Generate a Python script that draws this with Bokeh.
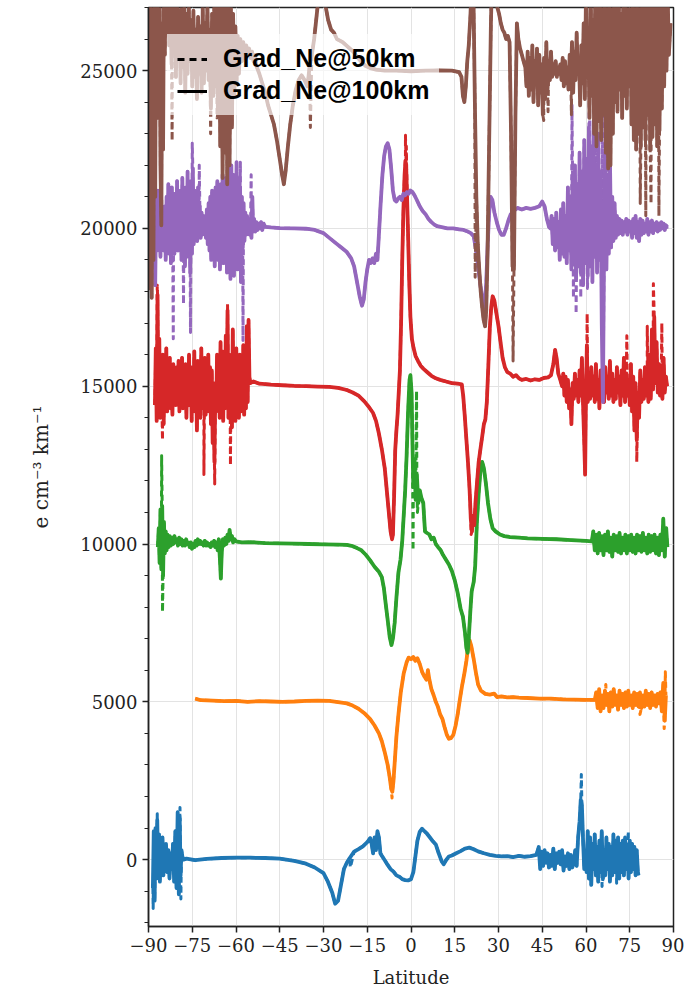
import numpy as np
from bokeh.plotting import figure
from bokeh.models import Range1d, FixedTicker, Legend, LegendItem
from bokeh.embed import file_html
from bokeh.resources import INLINE

# ---------------- data (latitude, value) ----------------
X_TICKS = [-90, -75, -60, -45, -30, -15, 0, 15, 30, 45, 60, 75, 90]
X_TICK_LABELS = ["\u221290", "\u221275", "\u221260", "\u221245", "\u221230", "\u221215",
                 "0", "15", "30", "45", "60", "75", "90"]
Y_TICKS = [0, 5000, 10000, 15000, 20000, 25000]
Y_MINOR = [-2000, -1000, 1000, 2000, 3000, 4000, 6000, 7000, 8000, 9000, 11000, 12000,
           13000, 14000, 16000, 17000, 18000, 19000, 21000, 22000, 23000, 24000, 26000, 27000]

LEGEND_LABELS = ["Grad_Ne@50km", "Grad_Ne@100km"]
COLORS = ["#1f77b4", "#ff7f0e", "#2ca02c", "#d62728", "#9467bd", "#8c564b"]

BLUE_100 = [
    (-88.5, -900), (-88.2, 900), (-87.9, -1300), (-87.6, 1000), (-87.3, -600), (-87.0, 1250),
    (-86.7, -400), (-86.4, 800), (-86.1, -700), (-85.8, 600), (-85.5, -300), (-85.2, 700),
    (-84.9, -500), (-84.6, 400), (-84.3, -200), (-84.0, 500), (-83.6, -400), (-83.2, 300),
    (-82.8, -600), (-82.4, 200), (-82.0, -300), (-81.6, 500), (-81.2, -700), (-80.8, 900),
    (-80.4, -900), (-80.0, 1500), (-79.6, -1100), (-79.3, 1300), (-79.0, -500), (-78.7, 300),
    (-78.4, 100), (-78.0, 0),
    (-77, 30), (-74, -20), (-70, 20), (-65, 50), (-60, 60), (-55, 60), (-50, 50), (-45, 30),
    (-40, -40), (-36, -130), (-33, -250), (-30, -430), (-28.5, -700), (-27, -1050), (-26, -1400),
    (-25, -1300), (-24, -800), (-23, -300), (-22, -100), (-21, 50), (-19.5, 250), (-18, 330),
    (-16.5, 420), (-15, 550), (-14, 680), (-13.5, 500), (-13, 200), (-12.5, 700), (-12, 300),
    (-11.5, 900), (-11, 700), (-10.5, 200), (-10, 120), (-9, -20), (-8, -170), (-7, -300),
    (-6, -380), (-5, -500), (-4, -540), (-3, -620), (-2, -650), (-1, -660), (0, -620),
    (0.8, -400), (1.5, 100), (2.2, 600), (3, 880), (3.8, 980), (4.6, 900), (5.5, 820),
    (6.5, 700), (7.5, 580), (8.5, 480), (9.5, 200), (10.5, -50), (11.2, -150), (12, -20),
    (13, 100), (14, 130), (15.5, 200), (17, 270), (18.5, 350), (20, 380), (21.5, 330),
    (23, 260), (25, 200), (27, 150), (29, 120), (31, 100), (33, 110), (35, 80), (37, 120),
    (39, 90), (41, 110), (43, 150),
    (43.8, 400), (44.3, -300), (44.8, 250), (45.3, -200), (45.8, 300), (46.3, -100),
    (46.8, 200), (47.3, -250), (47.8, 150), (48.3, -200), (48.8, 350), (49.3, -300),
    (49.8, 200), (50.3, -100), (50.8, 250), (51.3, -150), (51.8, 300), (52.3, -350),
    (52.8, 100), (53.3, -200), (53.8, 200), (54.3, -300), (54.8, 150), (55.3, -250),
    (55.8, -100), (56.3, 300), (56.8, -200), (57.3, 700), (57.8, 1200), (58.2, 1900),
    (58.6, 1700), (59.0, 600), (59.4, -300), (59.8, 200), (60.2, -400),
    (60.6, 900), (61.0, -600), (61.4, 700), (61.8, -800), (62.2, 500), (62.6, -300),
    (63.0, 800), (63.4, -500), (63.8, 400), (64.2, -700), (64.6, 600), (65.0, -400),
    (65.4, 900), (65.8, -600), (66.2, 300), (66.6, -500), (67.0, 700), (67.4, -300),
    (67.8, 500), (68.2, -700), (68.6, 400), (69.0, -500), (69.4, 800), (69.8, -400),
    (70.2, 600), (70.6, -300), (71.0, 700), (71.4, -600), (71.8, 500), (72.2, -400),
    (72.6, 600), (73.0, -500), (73.4, 700), (73.8, -300), (74.2, 400), (74.6, -600),
    (75.0, 600), (75.4, -400), (75.8, 500), (76.2, -300), (76.6, 400), (77.0, -500),
    (77.4, 300), (77.8, -400), (78.0, -500),
]
BLUE_50_SPIKES = [(-88.4, -1550), (-87.0, 1450), (-79.2, 1650), (-78.9, -1250), (-20.8, -250),
                  (58.4, 2700), (65.5, -850), (70.5, -750), (74.5, 900)]

ORANGE_100 = [
    (-74.0, 5100), (-72, 5050), (-68, 5040), (-64, 5020), (-60, 5030), (-56, 5000), (-52, 5020),
    (-48, 5010), (-44, 5000), (-40, 5010), (-36, 5030), (-32, 5040), (-28, 5030), (-25, 4990),
    (-22, 4950), (-20, 4880), (-18, 4780), (-16, 4640), (-14, 4450), (-12.5, 4250), (-11, 4000),
    (-10, 3750), (-9, 3400), (-8, 3000), (-7.3, 2600), (-6.8, 2250), (-6.4, 2150), (-6.0, 2500),
    (-5.5, 3200), (-5, 3900), (-4.3, 4600), (-3.5, 5300), (-2.5, 5900), (-1.5, 6250),
    (-0.8, 6400), (0, 6350), (0.8, 6420), (1.5, 6300), (2.2, 6380), (3, 6200), (3.8, 5950),
    (4.6, 5800), (5.3, 5700), (5.8, 6000), (6.3, 5700), (7, 5400), (7.8, 5200), (8.5, 5000),
    (9.2, 4850), (10, 4600), (10.8, 4450), (11.5, 4200), (12.3, 3950), (13, 3830), (13.7, 3850),
    (14.5, 3950), (15.3, 4250), (16, 4600), (16.8, 5100), (17.5, 5500), (18.3, 5900),
    (19, 6300), (19.6, 6750), (20.1, 6950), (20.7, 6750), (21.5, 6350), (22.3, 5900),
    (23, 5550), (24, 5350), (25.5, 5250), (27, 5230), (28.5, 5260), (29.5, 5150), (31, 5170),
    (33, 5140), (35, 5150), (37, 5130), (40, 5120), (44, 5100), (48, 5100), (52, 5080),
    (56, 5070), (60, 5060), (63, 5060),
    (63.5, 5300), (64.0, 4800), (64.5, 5400), (65.0, 4700), (65.5, 5200), (66.0, 4800),
    (66.5, 5350), (67.0, 4900), (67.5, 5250), (68.0, 4700), (68.5, 5300), (69.0, 4850),
    (69.5, 5400), (70.0, 4900), (70.5, 5200), (71.0, 4750), (71.5, 5350), (72.0, 4900),
    (72.5, 5250), (73.0, 4800), (73.5, 5300), (74.0, 4850), (74.5, 5350), (75.0, 4900),
    (75.5, 5200), (76.0, 4800), (76.5, 5300), (77.0, 4900), (77.5, 5250), (78.0, 4850),
    (78.5, 5300), (79.0, 4800), (79.5, 5200), (80.0, 4850), (80.5, 5350), (81.0, 4900),
    (81.5, 5250), (82.0, 4800), (82.5, 5300), (83.0, 4900), (83.5, 5200), (84.0, 4850),
    (84.5, 5250), (85.0, 4950), (85.5, 5300), (86.0, 4700), (86.5, 5600), (87.0, 4400),
    (87.4, 5200),
]
ORANGE_50_SPIKES = [(-6.5, 1950), (66.8, 5550), (78.5, 4600), (86.8, 4150), (87.2, 5950)]

GREEN_100 = [
    (-86.8, 9900), (-86.5, 10500), (-86.2, 9400), (-85.9, 11100), (-85.6, 9200), (-85.3, 11200),
    (-85.0, 9000), (-84.7, 10700), (-84.4, 9700), (-84.1, 10400), (-83.8, 9800), (-83.5, 10300),
    (-83.1, 9900), (-82.7, 10250), (-82.3, 9950), (-81.9, 10200), (-81.5, 10000), (-81.1, 10250),
    (-80.7, 10050), (-80.3, 10150), (-79.9, 9950), (-79.5, 10200), (-79.1, 10000), (-78.7, 10150),
    (-78.3, 9950), (-77.9, 10100), (-77.5, 9950), (-77.1, 10150), (-76.7, 10000), (-76.3, 10050),
    (-75.9, 9900), (-75.5, 10050), (-75.1, 9850), (-74.7, 10000), (-74.3, 9900), (-73.9, 10100),
    (-73.5, 9950), (-73.1, 10150), (-72.7, 10000), (-72.3, 10100), (-71.9, 10000), (-71.5, 10050),
    (-71.1, 9950), (-70.7, 10100), (-70.3, 9950), (-69.9, 10050), (-69.5, 9950), (-69.1, 10000),
    (-68.7, 9900), (-68.3, 10050), (-67.9, 9950), (-67.5, 10100), (-67.1, 9900), (-66.7, 10050),
    (-66.3, 9800), (-65.9, 10150), (-65.5, 9500), (-65.2, 8900), (-64.9, 9700), (-64.5, 10150),
    (-64.1, 9950), (-63.7, 10200), (-63.3, 10000), (-62.9, 10300), (-62.5, 10100), (-62.2, 10450),
    (-61.8, 10150), (-61.4, 10250), (-61.0, 10050), (-60.5, 10150), (-60, 10080),
    (-58, 10050), (-55, 10060), (-50, 10030), (-45, 10020), (-40, 10010), (-35, 10000),
    (-30, 9990), (-25, 9980), (-22, 9970), (-20, 9930), (-18.5, 9870), (-17, 9800),
    (-15.5, 9660), (-14, 9480), (-12.5, 9280), (-11, 9120), (-10, 8950), (-9.3, 8600),
    (-8.6, 8050), (-8, 7600), (-7.3, 7050), (-6.7, 6800), (-6.2, 7000), (-5.6, 7500),
    (-5.0, 8300), (-4.3, 9100), (-3.6, 9500), (-3.0, 10100), (-2.5, 10900), (-2.0, 11700),
    (-1.5, 12800), (-1.0, 14200), (-0.5, 15200), (-0.2, 15350), (0.2, 14800), (0.5, 13200),
    (0.8, 11800), (1.2, 12700), (1.6, 11400), (2.0, 12200), (2.5, 11300), (3.0, 11700),
    (3.6, 11450), (4.2, 11300), (4.8, 10400), (5.5, 10350), (6.3, 10300), (7.0, 10150),
    (7.8, 10200), (8.5, 10000), (9.3, 9900), (10.2, 9800), (11.0, 9650), (12.0, 9500),
    (13.0, 9350), (14.0, 9150), (15.0, 8850), (16.0, 8450), (17.0, 7950), (17.8, 7700),
    (18.5, 7200), (19.0, 6700), (19.4, 6550), (19.8, 7000), (20.3, 7800), (20.8, 8500),
    (21.5, 8800), (22.0, 9300), (22.6, 10700), (23.2, 11600), (23.8, 12300), (24.4, 12600),
    (25.0, 12400), (25.7, 11900), (26.4, 11300), (27.2, 10800), (28.0, 10500), (29.0, 10400),
    (30.5, 10300), (32, 10250), (34, 10220), (37, 10200), (40, 10180), (45, 10160),
    (50, 10150), (55, 10120), (60, 10100), (62, 10080),
    (62.5, 10400), (63.0, 9800), (63.5, 10300), (64.0, 9700), (64.5, 10350), (65.0, 9800),
    (65.5, 10250), (66.0, 9650), (66.5, 10300), (67.0, 9800), (67.5, 10400), (68.0, 9750),
    (68.5, 10200), (69.0, 9600), (69.5, 10300), (70.0, 9800), (70.5, 10250), (71.0, 9750),
    (71.5, 10350), (72.0, 9700), (72.5, 10200), (73.0, 9800), (73.5, 10300), (74.0, 9700),
    (74.5, 10250), (75.0, 9800), (75.5, 10300), (76.0, 9750), (76.5, 10200), (77.0, 9700),
    (77.5, 10300), (78.0, 9800), (78.5, 10250), (79.0, 9750), (79.5, 10350), (80.0, 9800),
    (80.5, 10200), (81.0, 9700), (81.5, 10300), (82.0, 9750), (82.5, 10250), (83.0, 9800),
    (83.5, 10300), (84.0, 9700), (84.5, 10200), (85.0, 9650), (85.5, 10300), (86.0, 9800),
    (86.5, 10800), (87.0, 9600), (87.5, 10500), (87.9, 9900),
]
GREEN_50_SPIKES = [(-85.5, 12800), (-85.2, 7850), (0.7, 9800), (1.9, 14850), (2.2, 11000)]

RED_100 = [
    (-87.8, 14400), (-87.5, 16200), (-87.2, 13900), (-86.9, 17900), (-86.6, 14200), (-86.3, 16500),
    (-86.0, 14000), (-85.7, 15800), (-85.4, 14300), (-85.1, 16000), (-84.8, 13800), (-84.5, 15700),
    (-84.2, 14500), (-83.9, 16200), (-83.6, 14200), (-83.3, 15600), (-83.0, 14600), (-82.7, 15900),
    (-82.4, 14300), (-82.1, 15500), (-81.8, 14100), (-81.5, 15700), (-81.2, 14600), (-80.9, 15400),
    (-80.6, 14400), (-80.3, 15600), (-80.0, 14700), (-79.7, 15800), (-79.4, 14200), (-79.1, 15300),
    (-78.8, 14500), (-78.5, 15900), (-78.2, 14300), (-77.9, 15500), (-77.6, 14600), (-77.3, 15700),
    (-77.0, 14000), (-76.7, 15400), (-76.4, 14400), (-76.1, 16000), (-75.8, 14500), (-75.5, 15600),
    (-75.2, 13900), (-74.9, 15500), (-74.6, 14700), (-74.3, 16100), (-74.0, 14200), (-73.7, 15400),
    (-73.4, 13600), (-73.1, 15800), (-72.8, 14500), (-72.5, 15300), (-72.2, 14000), (-71.9, 16200),
    (-71.6, 14300), (-71.3, 15500), (-71.0, 14600), (-70.7, 15900), (-70.4, 14100), (-70.1, 15400),
    (-69.8, 14500), (-69.5, 16000), (-69.2, 14200), (-68.9, 15600), (-68.6, 13800), (-68.3, 15500),
    (-68.0, 13200), (-67.7, 15100), (-67.4, 12600), (-67.1, 14800), (-66.8, 14200), (-66.5, 16000),
    (-66.2, 14300), (-65.9, 15800), (-65.6, 14000), (-65.3, 16400), (-65.0, 14400), (-64.7, 16100),
    (-64.4, 13900), (-64.1, 15600), (-63.8, 14300), (-63.5, 16600), (-63.2, 14800), (-62.9, 17400),
    (-62.6, 14000), (-62.3, 16000), (-62.0, 14300), (-61.7, 15700), (-61.4, 13700), (-61.1, 16800),
    (-60.8, 14100), (-60.5, 15500), (-60.2, 13900), (-59.9, 16200), (-59.6, 14400), (-59.3, 15800),
    (-59.0, 14000), (-58.7, 16000), (-58.4, 14200), (-58.1, 15600), (-57.8, 14500), (-57.5, 16300),
    (-57.2, 14100), (-56.9, 15900), (-56.6, 14300), (-56.3, 16900), (-56.0, 14500), (-55.7, 17100),
    (-55.4, 15300), (-55.1, 15100),
    (-54, 15150), (-52, 15080), (-48, 15050), (-44, 15030), (-40, 15010), (-36, 15000),
    (-32, 14990), (-28, 14980), (-25, 14950), (-22, 14880), (-20, 14800), (-18, 14700),
    (-16, 14520), (-14.5, 14350), (-13, 14150), (-12, 13900), (-11, 13500), (-10, 13000),
    (-9, 12400), (-8.2, 11600), (-7.5, 10900), (-7.0, 10400), (-6.5, 10150), (-6.2, 10300),
    (-5.8, 11500), (-5.4, 13000), (-5.0, 13600), (-4.6, 14100), (-4.2, 14800), (-3.8, 15500),
    (-3.4, 17000), (-3.0, 19000), (-2.6, 20600), (-2.2, 21700), (-1.9, 22150), (-1.6, 21800),
    (-1.3, 20800), (-1.0, 19800), (-0.6, 18300), (-0.2, 17200), (0.3, 16500), (0.9, 16200),
    (1.6, 15950), (2.4, 15800), (3.3, 15650), (4.3, 15550), (5.5, 15450), (7.0, 15330),
    (8.5, 15250), (10, 15200), (12, 15150), (14, 15100), (16, 15080), (17.4, 15060),
    (17.9, 14700), (18.4, 14100), (19.0, 13300), (19.6, 12500), (20.1, 11700), (20.5, 10800),
    (20.9, 10400), (21.3, 10900), (21.7, 10600), (22.1, 11300), (22.6, 11900), (23.2, 12600),
    (23.8, 13000), (24.4, 13400), (25.0, 13800), (25.5, 13950), (26.0, 14500), (26.5, 15600),
    (27.0, 16800), (27.5, 17500), (28.0, 17850), (28.6, 17700), (29.3, 17300), (30.0, 16900),
    (30.7, 16400), (31.4, 15900), (32.2, 15600), (33.0, 15450), (34.0, 15400), (35.0, 15300),
    (36.0, 15350), (37.0, 15250), (38.0, 15200), (39.5, 15230), (41.0, 15180), (42.5, 15220),
    (44.0, 15200), (45.5, 15260), (47.0, 15280), (48.0, 15350), (48.8, 15700), (49.4, 16150),
    (49.9, 15900), (50.5, 15400), (51.2, 15200), (51.8, 15000),
    (52.2, 15400), (52.6, 14700), (53.0, 15300), (53.4, 14500), (53.8, 15200), (54.2, 14300),
    (54.6, 14900), (55.0, 13800), (55.4, 15100), (55.8, 14600), (56.2, 15400), (56.6, 14700),
    (57.0, 15200), (57.4, 14500), (57.8, 15500), (58.2, 14700), (58.6, 15900), (59.0, 14400),
    (59.4, 13200), (59.7, 12200), (60.0, 14800), (60.3, 16300), (60.6, 14500), (61.0, 15400),
    (61.4, 14600), (61.8, 15600), (62.2, 14700), (62.6, 15300), (63.0, 14500), (63.4, 15700),
    (63.8, 14600), (64.2, 15200), (64.6, 14300), (65.0, 15500), (65.4, 14700), (65.8, 15300),
    (66.2, 14500), (66.6, 15600), (67.0, 14800), (67.4, 15300), (67.8, 14600), (68.2, 15800),
    (68.6, 14700), (69.0, 15400), (69.4, 14500), (69.8, 15200), (70.2, 14600), (70.6, 15600),
    (71.0, 14800), (71.4, 15300), (71.8, 14400), (72.2, 15500), (72.6, 14700), (73.0, 15900),
    (73.4, 14500), (73.8, 15400), (74.2, 14700), (74.6, 15200), (75.0, 14400), (75.4, 15700),
    (75.8, 14200), (76.2, 15300), (76.6, 13600), (77.0, 15100), (77.4, 13300), (77.8, 14800),
    (78.2, 14000), (78.6, 15500), (79.0, 14500), (79.4, 15200), (79.8, 14600), (80.2, 15600),
    (80.6, 14700), (81.0, 15300), (81.4, 14500), (81.8, 16000), (82.2, 14600), (82.6, 16800),
    (83.0, 14900), (83.4, 17200), (83.8, 15100), (84.2, 16400), (84.6, 14800), (85.0, 15700),
    (85.4, 14700), (85.8, 15400), (86.2, 14600), (86.6, 15900), (87.0, 14800), (87.4, 15300),
    (87.8, 15000),
]
RED_50_SPIKES = [(-87.0, 18200), (-85.2, 13300), (-71.0, 12200), (-67.3, 11900), (-62.9, 17600),
                 (-61.9, 12500), (-1.9, 22950), (-1.6, 22600), (20.6, 10300), (60.4, 17300),
                 (74.0, 16600), (77.4, 12600), (81.0, 16900), (83.1, 18250), (86.0, 17000)]

PURPLE_100 = [
    (-88.3, 19000), (-88.0, 21000), (-87.7, 18200), (-87.4, 20800), (-87.1, 19300), (-86.8, 21200),
    (-86.5, 19500), (-86.2, 20600), (-85.9, 19100), (-85.6, 20900), (-85.3, 19600), (-85.0, 20500),
    (-84.7, 19300), (-84.4, 20700), (-84.1, 19000), (-83.8, 21000), (-83.5, 19400), (-83.2, 21400),
    (-82.9, 19200), (-82.6, 20800), (-82.3, 18900), (-82.0, 21300), (-81.7, 19500), (-81.4, 20900),
    (-81.1, 19200), (-80.8, 21100), (-80.5, 19600), (-80.2, 21500), (-79.9, 19300), (-79.6, 20800),
    (-79.3, 19700), (-79.0, 21200), (-78.7, 19000), (-78.4, 21600), (-78.1, 19400), (-77.8, 20900),
    (-77.5, 18800), (-77.2, 21300), (-76.9, 19100), (-76.6, 21800), (-76.3, 19300), (-76.0, 21000),
    (-75.7, 18600), (-75.4, 21500), (-75.1, 19200), (-74.8, 21900), (-74.5, 19500), (-74.2, 21200),
    (-73.9, 19800), (-73.6, 20900), (-73.3, 19600), (-73.0, 21300), (-72.7, 19900), (-72.4, 20700),
    (-72.1, 19700), (-71.8, 20500), (-71.5, 19800), (-71.2, 20400), (-70.9, 19900), (-70.6, 20300),
    (-70.3, 19700), (-70.0, 20600), (-69.7, 19500), (-69.4, 20800), (-69.1, 19300), (-68.8, 21000),
    (-68.5, 19000), (-68.2, 21200), (-67.9, 19200), (-67.6, 20900), (-67.3, 18800), (-67.0, 21300),
    (-66.7, 19400), (-66.4, 21500), (-66.1, 19000), (-65.8, 21100), (-65.5, 18700), (-65.2, 21400),
    (-64.9, 19300), (-64.6, 21700), (-64.3, 18900), (-64.0, 21200), (-63.7, 19500), (-63.4, 21600),
    (-63.1, 18600), (-62.8, 21900), (-62.5, 19100), (-62.2, 21300), (-61.9, 18400), (-61.6, 22000),
    (-61.3, 19000), (-61.0, 21700), (-60.7, 18500), (-60.4, 21400), (-60.1, 19300), (-59.8, 22100),
    (-59.5, 18700), (-59.2, 21600), (-58.9, 19000), (-58.6, 21300), (-58.3, 18300), (-58.0, 21000),
    (-57.7, 19400), (-57.4, 20800), (-57.1, 19600), (-56.8, 20500), (-56.5, 19800), (-56.2, 20400),
    (-55.9, 19900), (-55.6, 20300), (-55.3, 19800), (-55.0, 20200), (-54.7, 19700), (-54.4, 21000),
    (-54.1, 19900), (-53.8, 20300), (-53.4, 19900), (-53.0, 20200), (-52.6, 19950), (-52.2, 20150),
    (-51.8, 20000), (-51.4, 20200), (-51.0, 19950), (-50.5, 20150), (-50, 20050),
    (-48, 20030), (-45, 20010), (-40, 20000), (-36, 19990), (-33, 19950), (-30, 19850),
    (-28, 19700), (-26, 19550), (-24, 19400), (-22, 19250), (-20.5, 19050), (-19.5, 18800),
    (-18.5, 18300), (-17.5, 17800), (-16.8, 17550), (-16.2, 17750), (-15.6, 18300), (-15.0, 18700),
    (-14.4, 19000), (-13.8, 18900), (-13.2, 19050), (-12.6, 18900), (-12.0, 19200), (-11.5, 19000),
    (-11.0, 19800), (-10.4, 20800), (-9.8, 21700), (-9.2, 22300), (-8.6, 22600), (-8.0, 22700),
    (-7.4, 22500), (-6.8, 21900), (-6.2, 21200), (-5.6, 20900), (-5.0, 20850), (-4.4, 20950),
    (-3.8, 21000), (-3.2, 20900), (-2.6, 21100), (-2.0, 21050), (-1.4, 21150), (-0.8, 21100),
    (-0.2, 21200), (0.5, 21150), (1.2, 21050), (2.0, 20900), (3.0, 20700), (4.0, 20550),
    (5.0, 20450), (6.0, 20300), (7.0, 20200), (8.0, 20120), (9.0, 20070), (10.5, 20040),
    (12.5, 20000), (14.5, 20000), (16.5, 19970), (18.0, 19950), (19.5, 19900), (20.5, 19850),
    (21.5, 19750), (22.3, 19300), (23.0, 18800), (23.8, 18200), (24.6, 17700), (25.3, 17500),
    (25.8, 18300), (26.3, 19500), (26.8, 20500), (27.3, 21000), (27.9, 20900), (28.6, 20500),
    (29.4, 20200), (30.2, 19950), (31.0, 19800), (31.8, 19800), (32.6, 20000), (33.4, 20250),
    (34.2, 20450), (35.2, 20550), (36.5, 20650), (38.0, 20600), (39.5, 20650), (41.0, 20620),
    (42.5, 20650), (44.0, 20700), (45.0, 20850), (45.8, 20700), (46.6, 20300), (47.3, 20050),
    (47.8, 20000), (48.2, 20400), (48.6, 19500), (49.0, 20300), (49.4, 19300), (49.8, 20500),
    (50.2, 19400), (50.6, 20200), (51.0, 19000), (51.4, 20600), (51.8, 19200), (52.2, 20800),
    (52.6, 19100), (53.0, 20400), (53.4, 18900), (53.8, 21300), (54.2, 19300), (54.6, 21000),
    (55.0, 18700), (55.4, 21600), (55.8, 19000), (56.2, 22000), (56.6, 18400), (57.0, 21400),
    (57.4, 18800), (57.8, 22400), (58.2, 18600), (58.6, 21800), (59.0, 18200), (59.4, 22800),
    (59.8, 18900), (60.2, 22200), (60.6, 18500), (61.0, 23200), (61.4, 18800), (61.8, 22600),
    (62.2, 18300), (62.6, 23400), (63.0, 19100), (63.4, 22000), (63.8, 18600), (64.2, 23000),
    (64.6, 19000), (65.0, 21800), (65.4, 17000), (65.8, 14500), (66.2, 19500), (66.6, 22500),
    (67.0, 18700), (67.4, 21500), (67.8, 19200), (68.2, 22300), (68.6, 19400), (69.0, 21000),
    (69.4, 19600), (69.8, 20800), (70.2, 19700), (70.6, 20400), (71.0, 19800), (71.4, 20300),
    (71.8, 19850), (72.2, 20250), (72.6, 19800), (73.0, 20200), (73.4, 19900), (73.8, 20300),
    (74.2, 19800), (74.6, 20250), (75.0, 19900), (75.4, 20200), (75.8, 19700), (76.2, 20300),
    (76.6, 19850), (77.0, 20400), (77.4, 19700), (77.8, 20200), (78.2, 19600), (78.6, 20300),
    (79.0, 19800), (79.4, 20250), (79.8, 19850), (80.2, 20150), (80.6, 19900), (81.0, 20300),
    (81.4, 19800), (81.8, 20200), (82.2, 19900), (82.6, 20250), (83.0, 19850), (83.4, 20150),
    (83.8, 19950), (84.2, 20200), (84.6, 19900), (85.0, 20150), (85.4, 19950), (85.8, 20200),
    (86.2, 20000), (86.6, 20150), (87.0, 19950), (87.4, 20100), (87.8, 20050), (88.2, 20050),
]
PURPLE_50_SPIKES = [(-81.5, 16500), (-78.0, 17600), (-75.6, 16700), (-75.0, 22700), (-72.6, 22000),
                    (-63.0, 22100), (-58.5, 22100), (-57.6, 16450), (-54.8, 21700), (55.2, 23900),
                    (55.7, 17800), (56.6, 17300), (58.2, 17800), (60.5, 18100), (61.2, 24400),
                    (63.2, 25000), (65.6, 26500), (66.0, 16500), (67.2, 24000)]

BROWN_100 = [
    (-89.8, 27600), (-89.5, 18100), (-89.2, 27000), (-88.9, 17800), (-88.6, 26800), (-88.3, 19000),
    (-88.0, 27500), (-87.7, 21000), (-87.4, 27800), (-87.1, 23500), (-86.8, 28000), (-86.5, 24500),
    (-86.2, 27800), (-85.9, 22000), (-85.6, 20100), (-85.3, 26500), (-85.0, 22500), (-84.7, 27800),
    (-84.4, 25500), (-84.1, 28000), (-83.7, 26200), (-83.3, 28000), (-82.9, 25800), (-82.5, 27500),
    (-82.1, 25200), (-81.8, 27700), (-81.4, 25600), (-81.0, 27000), (-80.6, 24800), (-80.2, 27300),
    (-79.8, 25400), (-79.4, 26900), (-79.0, 24600), (-78.6, 27800), (-78.2, 25100), (-77.8, 27400),
    (-77.4, 24300), (-77.0, 26800), (-76.6, 24900), (-76.2, 27100), (-75.8, 25300), (-75.4, 26600),
    (-75.0, 24500), (-74.6, 26900), (-74.2, 24800), (-73.8, 26300), (-73.4, 24100), (-73.0, 26700),
    (-72.6, 24900), (-72.2, 26400), (-71.8, 24300), (-71.4, 27000), (-71.0, 24600), (-70.6, 26500),
    (-70.2, 25000), (-69.8, 27200), (-69.4, 24700), (-69.0, 26300), (-68.6, 23800), (-68.2, 26800),
    (-67.8, 24200), (-67.4, 27500), (-67.0, 24500), (-66.6, 27900), (-66.2, 23600), (-65.8, 27800),
    (-65.4, 22600), (-65.0, 28000), (-64.6, 21600), (-64.2, 27500), (-63.8, 22400), (-63.4, 28000),
    (-63.0, 21400), (-62.6, 27000), (-62.2, 22000), (-61.8, 27500), (-61.4, 23200), (-61.0, 26800),
    (-60.6, 24200), (-60.2, 26400), (-59.8, 24600), (-59.4, 26100), (-59.0, 24900), (-58.5, 26000),
    (-58.0, 25300), (-57.5, 25900), (-57.0, 25400), (-56.5, 25800), (-56.0, 25500), (-55.5, 25700),
    (-55.0, 25400), (-54.5, 25600), (-54.0, 25300), (-53.5, 25500), (-53.0, 25150),
    (-52.0, 24900), (-51.0, 24600), (-50.0, 24300), (-49.0, 23900), (-48.0, 23600), (-47.0, 23300),
    (-46.0, 22800), (-45.0, 22200), (-44.2, 21700), (-43.6, 21400), (-43.0, 21800), (-42.2, 22600),
    (-41.4, 23300), (-40.5, 23900), (-39.5, 24400), (-38.5, 24700), (-37.5, 24850), (-36.5, 24700),
    (-35.5, 24500), (-34.8, 25100), (-34.0, 25500), (-33.2, 26000), (-32.4, 26700), (-31.6, 27400),
    (-30.8, 28000), (-30.0, 27600), (-29.2, 27000), (-28.4, 26600), (-27.4, 26300), (-26.4, 26200),
    (-25.4, 26000), (-24.4, 25950), (-23.4, 25900), (-22.2, 25800), (-21.0, 25700), (-19.8, 25600),
    (-18.6, 25450), (-17.2, 25300), (-15.6, 25150), (-14.0, 25080), (-12.0, 25030), (-9.0, 25000),
    (-5.0, 25000), (0, 24980), (5, 25000), (10, 25010), (14, 25000), (16.5, 24950), (17.3, 24800),
    (17.8, 24200), (18.3, 24000), (18.8, 24500), (19.3, 25300), (19.8, 25800), (20.4, 26800),
    (20.9, 28000), (21.4, 27500), (21.9, 24000), (22.4, 21000), (22.9, 19500), (23.4, 18700),
    (23.9, 18000), (24.4, 17500), (24.9, 17100), (25.4, 16900), (25.8, 17400), (26.2, 19000),
    (26.6, 21500), (27.0, 24000), (27.4, 26500), (27.8, 28000), (28.4, 27500), (29.0, 27600),
    (29.6, 27000), (30.2, 26800), (30.8, 26500), (31.4, 26300), (32.0, 26200), (32.6, 26000),
    (33.2, 26100), (33.8, 25900), (34.3, 23000), (34.8, 18800), (35.3, 18700), (35.8, 23500),
    (36.3, 26500), (36.8, 26000), (37.4, 25700), (38.0, 25500), (38.6, 25300), (39.2, 25100),
    (39.6, 24500), (40.0, 25600), (40.4, 24200), (40.8, 25400), (41.2, 24400), (41.6, 25800),
    (42.0, 24000), (42.4, 25300), (42.8, 24600), (43.2, 25700), (43.6, 23900), (44.0, 25500),
    (44.4, 24300), (44.8, 25200), (45.2, 23600), (45.6, 25400), (46.0, 24100), (46.4, 25900),
    (46.8, 24400), (47.2, 25300), (47.6, 24700), (48.0, 25600), (48.4, 24800), (48.8, 25200),
    (49.2, 24900), (49.6, 25300), (50.0, 24800), (50.4, 25100), (50.8, 24900), (51.2, 25200),
    (51.6, 24700), (52.0, 25400), (52.4, 24500), (52.8, 25300), (53.2, 24600), (53.6, 25100),
    (54.0, 24400), (54.4, 25500), (54.8, 24800), (55.2, 25900), (55.6, 24300), (56.0, 25600),
    (56.4, 24700), (56.8, 26200), (57.2, 24900), (57.6, 25400), (58.0, 23900), (58.4, 25800),
    (58.8, 24600), (59.2, 26500), (59.6, 24100), (60.0, 27500), (60.4, 24800), (60.8, 26000),
    (61.2, 23500), (61.6, 27800), (62.0, 24200), (62.4, 26600), (62.8, 23000),
    (63.2, 28000), (63.6, 22600), (64.0, 27500), (64.4, 23400), (64.8, 28000), (65.2, 22800),
    (65.6, 27000), (66.0, 23600), (66.4, 28000), (66.8, 22400), (67.2, 27600), (67.6, 21900),
    (68.0, 28000), (68.4, 22000), (68.8, 27200), (69.2, 23000), (69.6, 28000), (70.0, 24000),
    (70.4, 27000), (70.8, 23700), (71.2, 27800), (71.6, 24400), (72.0, 26800), (72.4, 23500),
    (72.8, 27500), (73.2, 24200), (73.6, 28000), (74.0, 23800), (74.4, 27000), (74.8, 24500),
    (75.2, 27800), (75.6, 23300), (76.0, 28000), (76.4, 22800), (76.8, 27500), (77.2, 22500),
    (77.6, 28000), (78.0, 23000), (78.4, 27000), (78.8, 22600), (79.2, 28000), (79.6, 23200),
    (80.0, 27500), (80.4, 22800), (80.8, 28000), (81.2, 23600), (81.6, 27800), (82.0, 22500),
    (82.4, 28000), (82.8, 22900), (83.2, 27500), (83.6, 23300), (84.0, 28000), (84.4, 22600),
    (84.8, 27800), (85.2, 23100), (85.6, 28000), (86.0, 23800), (86.4, 27500), (86.8, 24500),
    (87.2, 28000), (87.6, 25000), (88.0, 27500), (88.4, 25500), (89.0, 26500),
]
BROWN_50_SPIKES = [(-81.9, 22780), (-68.7, 23000), (-66.5, 23500), (-34.5, 23200), (22.0, 18450),
                   (35.0, 15800), (45.5, 23420), (47.0, 23700), (55.0, 23600), (78.6, 20790),
                   (80.5, 20400), (82.3, 20790), (85.0, 20400)]

SERIES = [
    (COLORS[0], BLUE_100, BLUE_50_SPIKES),
    (COLORS[1], ORANGE_100, ORANGE_50_SPIKES),
    (COLORS[2], GREEN_100, GREEN_50_SPIKES),
    (COLORS[3], RED_100, RED_50_SPIKES),
    (COLORS[4], PURPLE_100, PURPLE_50_SPIKES),
    (COLORS[5], BROWN_100, BROWN_50_SPIKES),
]

# ---------------- figure ----------------
p = figure(width=684, height=993, output_backend="svg", toolbar_location=None,
           x_range=Range1d(-90, 90), y_range=Range1d(-2120, 27000),
           min_border_left=148, min_border_right=11, min_border_top=7, min_border_bottom=67,
           background_fill_color="white", border_fill_color="white")

for color, solid, spikes in SERIES:
    dashed = sorted(solid + spikes, key=lambda t: t[0])
    dx, dy = zip(*dashed)
    sx, sy = zip(*solid)
    p.line(list(dx), list(dy), color=color, line_width=3, line_dash="6 4", line_join="round")
    p.line(list(sx), list(sy), color=color, line_width=3.8, line_join="round")

# legend proxies (single-point lines draw nothing in the plot)
r_dash = p.line([0], [0], color="black", line_width=3, line_dash="7 5")
r_solid = p.line([0], [0], color="black", line_width=3)
legend = Legend(items=[LegendItem(label=LEGEND_LABELS[0], renderers=[r_dash]),
                       LegendItem(label=LEGEND_LABELS[1], renderers=[r_solid])],
                location=(19, 811))
legend.label_text_font = "Liberation Sans"
legend.label_text_font_style = "bold"
legend.label_text_font_size = "25px"
legend.label_text_color = "black"
legend.background_fill_color = "white"
legend.background_fill_alpha = 0.65
legend.border_line_alpha = 0
legend.glyph_width = 30
legend.glyph_height = 28
legend.label_height = 28
legend.label_standoff = 16
legend.spacing = 3
legend.padding = 10
legend.margin = 0
p.add_layout(legend)

# axes
p.xaxis.ticker = FixedTicker(ticks=X_TICKS)
p.xaxis.major_label_overrides = {t: l for t, l in zip(X_TICKS, X_TICK_LABELS)}
p.yaxis.ticker = FixedTicker(ticks=Y_TICKS, minor_ticks=Y_MINOR)
p.xaxis.axis_label = "Latitude"
p.yaxis.axis_label = "e cm\u207b\u00b3 km\u207b\u00b9"
for ax in (p.xaxis[0], p.yaxis[0]):
    ax.axis_label_text_font = "DejaVu Serif"
    ax.axis_label_text_font_style = "normal"
    ax.axis_label_text_font_size = "18px"
    ax.axis_label_text_color = "#222222"
    ax.major_label_text_font = "DejaVu Serif"
    ax.major_label_text_font_size = "18px"
    ax.major_label_text_color = "#222222"
    ax.axis_line_color = "#222222"
    ax.axis_line_width = 1.5
    ax.major_tick_line_color = "#222222"
    ax.major_tick_line_width = 1.5
    ax.major_tick_out = 6
    ax.major_tick_in = 0
    ax.minor_tick_line_color = "#222222"
    ax.minor_tick_line_width = 1
    ax.minor_tick_out = 4
    ax.minor_tick_in = 0
    ax.major_label_standoff = 5
p.xaxis.minor_tick_line_color = None
p.xaxis.axis_label_standoff = 12
p.yaxis.axis_label_text_font_size = "20px"
p.yaxis.axis_label_standoff = 24

p.xgrid.ticker = FixedTicker(ticks=X_TICKS)
p.ygrid.ticker = FixedTicker(ticks=Y_TICKS)
p.grid.grid_line_color = "#e3e3e3"
p.grid.grid_line_width = 1
p.outline_line_color = "#222222"
p.outline_line_width = 1.5

open("out.html", "w").write(file_html(p, INLINE))
